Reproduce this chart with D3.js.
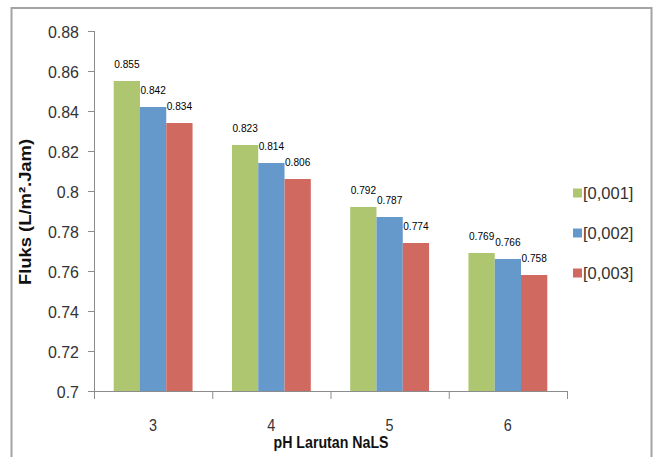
<!DOCTYPE html>
<html>
<head>
<meta charset="utf-8">
<script src="https://cdn.jsdelivr.net/npm/d3@7"></script>
<style>
  html, body { margin: 0; padding: 0; background: #fff; }
  svg { display: block; }
  text { font-family: 'Liberation Sans', Arial, sans-serif; }
</style>
</head>
<body>
<svg id="chart" width="653" height="457"></svg>
<script>
// Flux per pH of the NaLS solution, for three concentrations
const categories = ["3", "4", "5", "6"];
const seriesNames = ["[0,001]", "[0,002]", "[0,003]"];
const series001 = [0.855, 0.823, 0.792, 0.769];
const series002 = [0.842, 0.814, 0.787, 0.766];
const series003 = [0.834, 0.806, 0.774, 0.758];
const yTickValues = [0.7, 0.72, 0.74, 0.76, 0.78, 0.8, 0.82, 0.84, 0.86, 0.88];
const yTickLabels = ["0.7", "0.72", "0.74", "0.76", "0.78", "0.8", "0.82", "0.84", "0.86", "0.88"];
const xTitle = "pH Larutan NaLS";
const yTitle = "Fluks (L/m\u00B2.Jam)";

const colors = ["#adc66f", "#6699cb", "#d0695f"];
const seriesValues = [series001, series002, series003];

const svg = d3.select("#chart");

// place a text at (x, y) with a horizontal squeeze factor
function placeText(sel, px, py, sx, rot) {
  sel.attr("transform", (d, i) => {
    const xx = typeof px === "function" ? px(d, i) : px;
    const yy = typeof py === "function" ? py(d, i) : py;
    return `translate(${xx},${yy})` + (rot ? ` rotate(${rot})` : "") + ` scale(${sx},1)`;
  });
  return sel;
}

// outer frame
svg.append("rect")
  .attr("x", 11.5).attr("y", 8)
  .attr("width", 640).attr("height", 470)
  .attr("fill", "#fff")
  .attr("stroke", "#a3a3a3")
  .attr("stroke-width", 2);

const plotLeft = 94, plotRight = 567, plotTop = 31, plotBottom = 391;

const x = d3.scaleBand()
  .domain(categories)
  .range([plotLeft, plotRight])
  .paddingInner(1 / 3)
  .paddingOuter(1 / 6);

const xs = d3.scaleBand()
  .domain(d3.range(seriesNames.length))
  .range([0, x.bandwidth()]);

const y = d3.scaleLinear().domain([0.7, 0.88]).range([plotBottom, plotTop]);

// y axis
const yAxis = svg.append("g")
  .attr("transform", `translate(${plotLeft},0)`)
  .call(d3.axisLeft(y)
    .tickValues(yTickValues)
    .tickSize(6)
    .tickFormat((d, i) => yTickLabels[i]));
yAxis.select(".domain").attr("stroke", "#8c8c8c").attr("d", `M0.5,${plotTop}V${plotBottom + 8}`);
yAxis.selectAll(".tick line").attr("stroke", "#8c8c8c");
yAxis.selectAll(".tick text")
  .attr("x", null).attr("dy", null)
  .attr("font-family", "'Liberation Sans', Arial, sans-serif")
  .attr("font-size", 17)
  .attr("fill", "#333")
  .attr("transform", "translate(-15,6) scale(0.94,1)");

// x axis: baseline and category dividers
const step = x.step();
svg.append("line")
  .attr("x1", plotLeft).attr("x2", plotRight)
  .attr("y1", plotBottom + 0.5).attr("y2", plotBottom + 0.5)
  .attr("stroke", "#8c8c8c");
svg.selectAll(".xdiv")
  .data(d3.range(categories.length + 1))
  .join("line")
  .attr("class", "xdiv")
  .attr("x1", i => plotLeft + 0.5 + i * step)
  .attr("x2", i => plotLeft + 0.5 + i * step)
  .attr("y1", plotBottom).attr("y2", plotBottom + 8)
  .attr("stroke", "#8c8c8c");
placeText(svg.selectAll(".xlab")
  .data(categories)
  .join("text")
  .attr("class", "xlab")
  .attr("text-anchor", "middle")
  .attr("font-size", 16)
  .attr("fill", "#333")
  .text(d => d), d => x(d) + x.bandwidth() / 2, 431, 0.9);

// bars and value labels
seriesValues.forEach((vals, s) => {
  const g = svg.append("g");
  g.selectAll("rect")
    .data(vals)
    .join("rect")
    .attr("x", (d, i) => x(categories[i]) + xs(s))
    .attr("y", d => y(d))
    .attr("width", xs.bandwidth())
    .attr("height", d => y(0.7) - y(d))
    .attr("fill", colors[s]);
  placeText(g.selectAll("text")
    .data(vals)
    .join("text")
    .attr("text-anchor", "middle")
    .attr("font-size", 11.5)
    .attr("fill", "#000")
    .text(d => d3.format(".3f")(d)),
    (d, i) => x(categories[i]) + xs(s) + xs.bandwidth() / 2,
    d => y(d) - 13.5, 0.88);
});

// axis titles
placeText(svg.append("text")
  .attr("text-anchor", "middle")
  .attr("font-weight", "bold")
  .attr("font-size", 16.5)
  .attr("fill", "#111")
  .text(xTitle), 331, 448, 0.86);

placeText(svg.append("text")
  .attr("text-anchor", "middle")
  .attr("font-weight", "bold")
  .attr("font-size", 16)
  .attr("fill", "#111")
  .text(yTitle), 31, 212, 1.15, -90);

// legend
const legend = svg.append("g");
seriesNames.forEach((name, s) => {
  const cy = 193 + s * 40;
  legend.append("rect")
    .attr("x", 573).attr("y", cy - 4.5)
    .attr("width", 9).attr("height", 9)
    .attr("fill", colors[s]);
  legend.append("text")
    .attr("x", 583).attr("y", cy + 6)
    .attr("font-size", 16.5)
    .attr("fill", "#333")
    .text(name);
});
</script>
</body>
</html>
